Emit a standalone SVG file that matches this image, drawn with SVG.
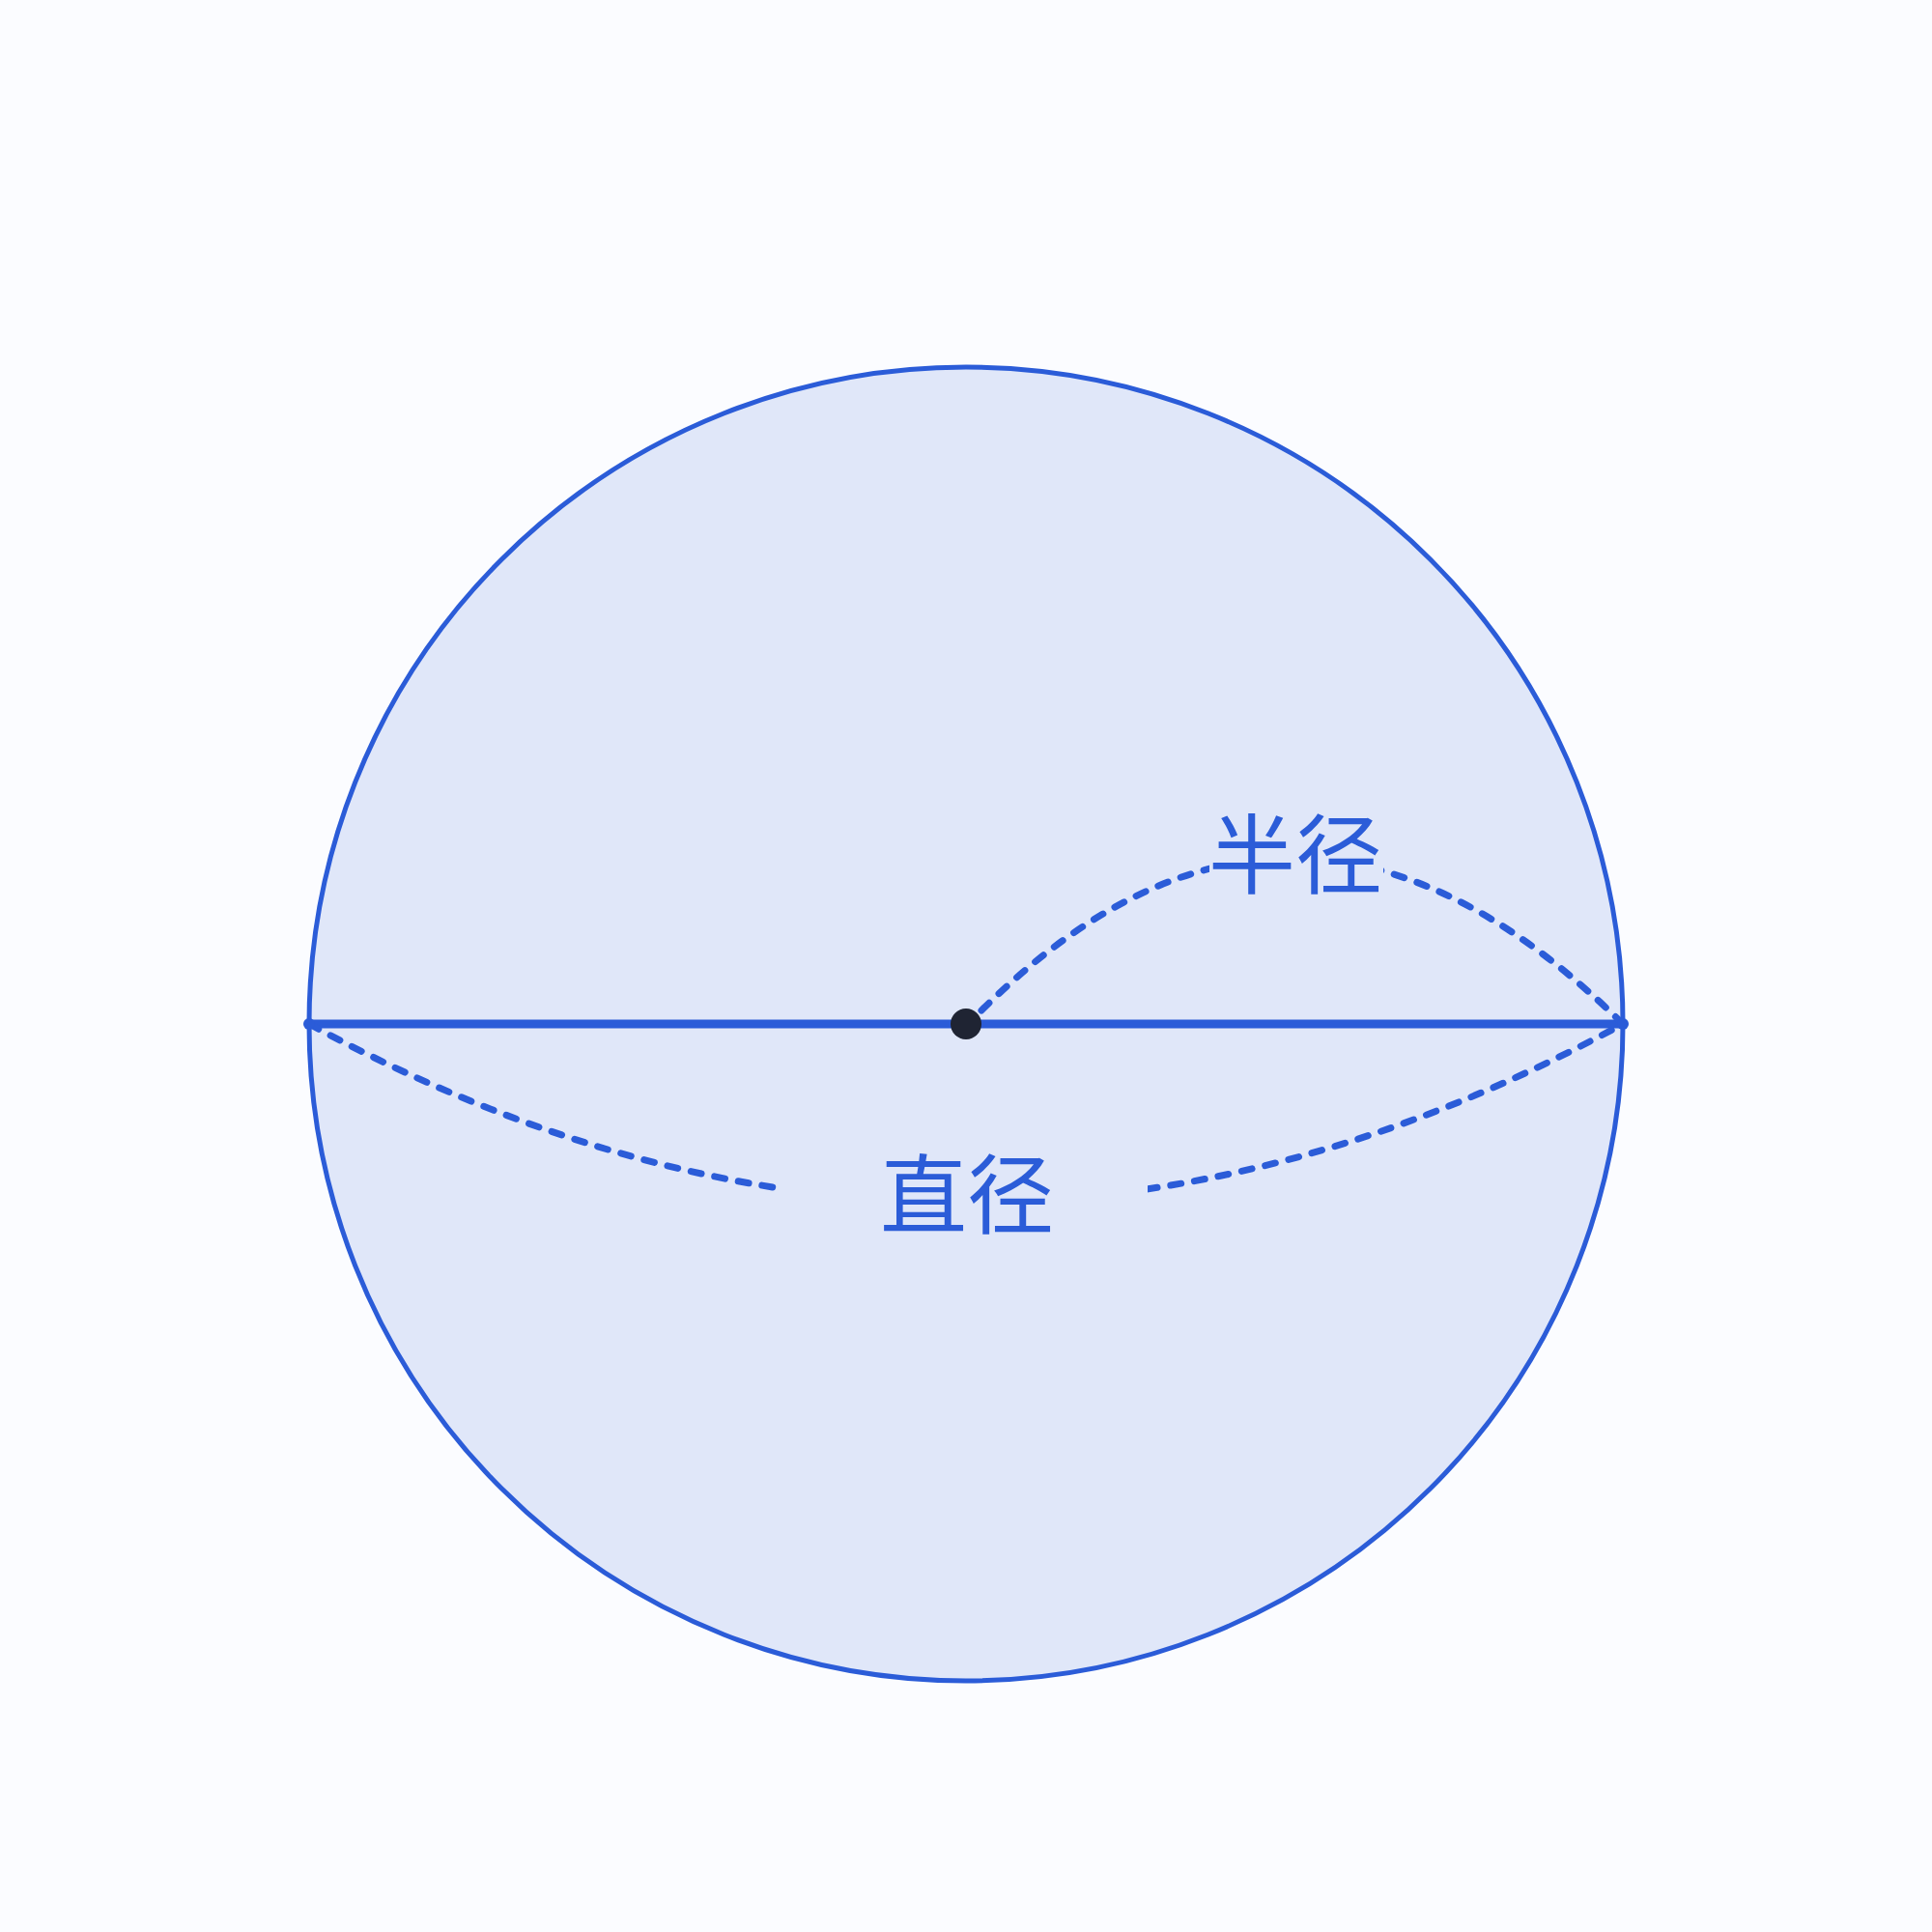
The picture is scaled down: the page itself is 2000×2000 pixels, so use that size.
<svg xmlns="http://www.w3.org/2000/svg" width="2000" height="2000" viewBox="0 0 2000 2000">
<defs>
<style>
.dash{fill:none;stroke:#2b5cd8;stroke-width:7;stroke-linecap:round;stroke-dasharray:11 14}
.lbl{font-family:"Noto Sans CJK SC","Noto Sans CJK JP",sans-serif;font-size:90px;fill:#2b5cd8;text-anchor:middle}
.mask{fill:#e0e7f9}
</style>
</defs>
<rect width="2000" height="2000" fill="#fbfcff"/>
<g id="circle">
<circle cx="1000" cy="1060" r="680" fill="#e0e7f9" stroke="#2b5cd8" stroke-width="5"/>
</g>
<g id="connectors">
<line x1="320" y1="1060" x2="1680" y2="1060" stroke="#2b5cd8" stroke-width="9" stroke-linecap="round"/>
<path class="dash" d="M1016,1046 Q1340,724 1680,1060"/>
<path class="dash" d="M320,1060 Q1000,1430 1680,1060"/>
<circle cx="320" cy="1060" r="6" fill="#2b5cd8"/>
<circle cx="1680" cy="1060" r="6" fill="#2b5cd8"/>
</g>
<g id="label-radius">
<rect class="mask" x="1252" y="840" width="180" height="90"/>
<text class="lbl" x="1341" y="918">半径</text>
</g>
<g id="label-diameter">
<rect class="mask" x="810" y="1190" width="378" height="95"/>
<text class="lbl" x="1001" y="1270">直径</text>
</g>
<g id="center">
<circle cx="1000" cy="1060" r="16" fill="#1f2433"/>
</g>
</svg>
